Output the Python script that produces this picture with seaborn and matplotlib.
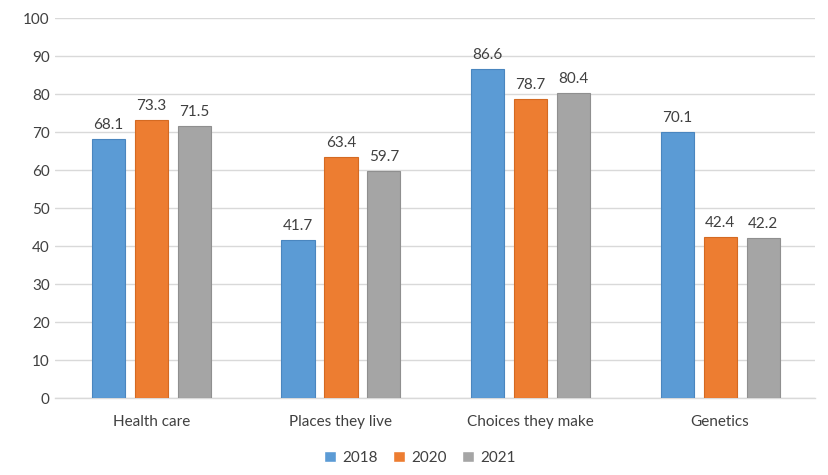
import numpy as np
import pandas as pd
import seaborn as sns
import matplotlib.pyplot as plt

categories = ['Health care', 'Places they live', 'Choices they make', 'Genetics']
years = ['2018', '2020', '2021']
vals_2018 = [68.1, 41.7, 86.6, 70.1]
vals_2020 = [73.3, 63.4, 78.7, 42.4]
vals_2021 = [71.5, 59.7, 80.4, 42.2]

df = pd.DataFrame({
    'category': categories * 3,
    'year': [y for y in years for _ in categories],
    'value': vals_2018 + vals_2020 + vals_2021,
})

sns.set_style('white')
plt.rcParams['font.family'] = ['Lato', 'DejaVu Sans']

colors = ['#5B9BD5', '#ED7D31', '#A5A5A5']
edges = ['#4A86BF', '#D46A22', '#8F8F8F']

fig = plt.figure(figsize=(8.29, 4.75), dpi=100)
ax = fig.add_axes([0.066, 0.162, 0.917, 0.8])

sns.barplot(data=df, x='category', y='value', hue='year', palette=colors,
            saturation=1, width=0.68, gap=0.23, ax=ax, legend=True, zorder=3)

for cont, ec in zip(ax.containers, edges):
    for p in cont:
        p.set_edgecolor(ec)
        p.set_linewidth(0.8)
    ax.bar_label(cont, fmt='%.1f', padding=5, fontsize=11, color='#404040')

ax.set_ylim(0, 100)
ax.set_yticks(range(0, 101, 10))
ax.set_xlim(-0.51, 3.5)
ax.yaxis.grid(True, color='#D9D9D9', linewidth=1, zorder=0)
ax.set_axisbelow(True)
for s in ['top', 'right', 'left']:
    ax.spines[s].set_visible(False)
ax.spines['bottom'].set_color('#D9D9D9')
ax.spines['bottom'].set_linewidth(1)
ax.tick_params(axis='both', length=0, labelsize=11, labelcolor='#404040')
ax.tick_params(axis='x', pad=12)
ax.set_xlabel('')
ax.set_ylabel('')

ax.legend(loc='upper center', bbox_to_anchor=(0.48, -0.11), ncol=3, frameon=False,
          fontsize=11, handlelength=0.8, handleheight=0.8, handletextpad=0.4,
          columnspacing=1.0, labelcolor='#404040', borderpad=0.2)

fig.savefig('out.png', dpi=100)
